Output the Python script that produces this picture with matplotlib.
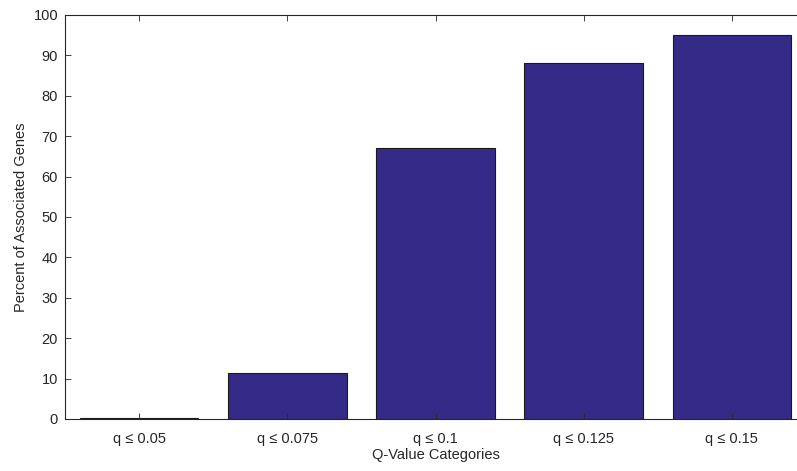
import matplotlib
matplotlib.use("Agg")
import matplotlib.pyplot as plt

categories = ["q \u2264 0.05", "q \u2264 0.075", "q \u2264 0.1", "q \u2264 0.125", "q \u2264 0.15"]
percent = [0.2, 11.3, 67.2, 88.1, 95.0]

plt.rcParams['font.family'] = ['Liberation Sans', 'DejaVu Sans']

fig = plt.figure(figsize=(7.97, 4.71), dpi=100)
ax = fig.add_axes([65/797, 52/471, 741/797, 404/471])

x = list(range(1, len(categories) + 1))
ax.bar(x, percent, width=0.8, color='#352a87', edgecolor='#1a1a1a', linewidth=0.8)

ax.set_xlim(0.5, 5.5)
ax.set_ylim(0, 100)
ax.set_yticks(range(0, 101, 10))
ax.set_xticks(x)
ax.set_xticklabels(categories)
ax.tick_params(direction='in', top=True, right=True, labelsize=10.5, colors='#262626', length=4, width=0.6)
ax.tick_params(axis='x', pad=9)
ax.tick_params(axis='y', pad=5)
for s in ax.spines.values():
    s.set_color('#262626')
    s.set_linewidth(0.8)

ax.set_xlabel("Q-Value Categories", fontsize=10.5, color='#262626', labelpad=2)
ax.set_ylabel("Percent of Associated Genes", fontsize=10.5, color='#262626', labelpad=4)

fig.savefig("out.png", dpi=100)
